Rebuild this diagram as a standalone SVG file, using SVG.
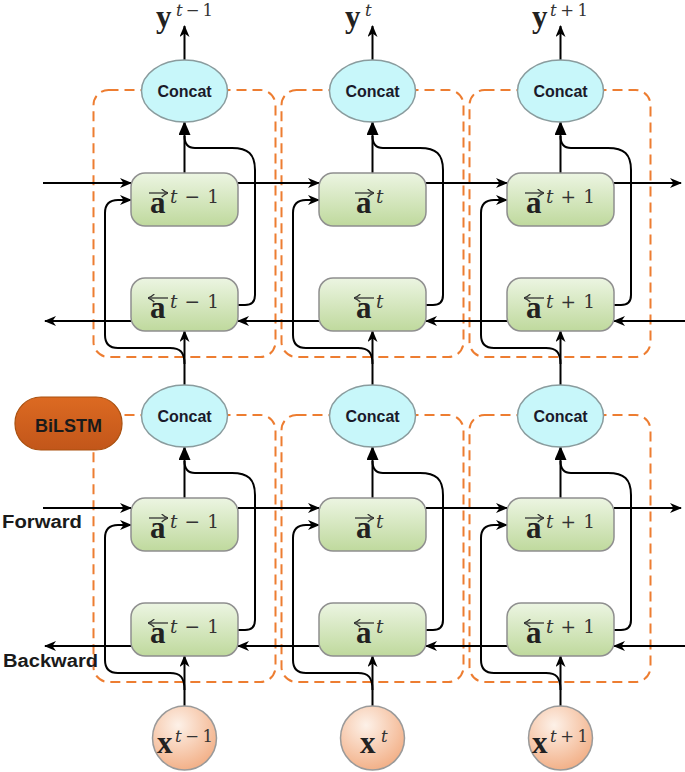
<svg xmlns="http://www.w3.org/2000/svg" width="685" height="772" viewBox="0 0 685 772">
<defs>
<style>
.dash{fill:none;stroke:#ED7D31;stroke-width:2;stroke-dasharray:10 6}
.cell{fill:url(#gGreen);stroke:#8f8f8f;stroke-width:1.5}
.cc{fill:#c8f7fa;stroke:#8a9c9e;stroke-width:1.5}
.xin{fill:url(#gPeach);stroke:#9a9a9a;stroke-width:1.5}
.ln{fill:none;stroke:#000;stroke-width:2}
.arr{marker-end:url(#mA)}
.big{marker-end:url(#mB)}
.ov{fill:none;stroke:#333;stroke-width:1.3;marker-end:url(#mT)}
.ctxt{font-family:"Liberation Sans",Arial,sans-serif;font-weight:bold;font-size:16px;fill:#1a1a2a;text-anchor:middle}
.lab{font-family:"Liberation Sans",Arial,sans-serif;font-weight:bold;font-size:18px;fill:#1a1a1a}
.a{font-family:"Liberation Serif","Times New Roman",serif;font-weight:bold;font-size:31px;fill:#222}
.sup{font-family:"DejaVu Serif","Liberation Serif",serif;font-style:italic;font-size:18.5px;fill:#333}
.sup2{font-family:"DejaVu Serif","Liberation Serif",serif;font-style:italic;font-size:16.5px;fill:#333}
.up{font-style:normal}
</style>
<linearGradient id="gGreen" x1="0" y1="0" x2="0" y2="1">
<stop offset="0" stop-color="#ecf5e2"/>
<stop offset="1" stop-color="#bfd99d"/>
</linearGradient>
<radialGradient id="gPeach" cx="0.4" cy="0.3" r="0.75">
<stop offset="0" stop-color="#fdf1e8"/>
<stop offset="1" stop-color="#f2ad83"/>
</radialGradient>
<linearGradient id="gBi" x1="0" y1="0" x2="0" y2="1">
<stop offset="0" stop-color="#dc6a22"/>
<stop offset="1" stop-color="#c2561a"/>
</linearGradient>
<marker id="mA" viewBox="0 0 12 10" refX="11" refY="5" markerWidth="12" markerHeight="10" markerUnits="userSpaceOnUse" orient="auto">
<path d="M0,0 L12,5 L0,10 L3.5,5 z" fill="#000"/>
</marker>
<marker id="mB" viewBox="0 0 14 12" refX="13" refY="6" markerWidth="14" markerHeight="12" markerUnits="userSpaceOnUse" orient="auto">
<path d="M0,0 L14,6 L0,12 z" fill="#000"/>
</marker>
<marker id="mT" viewBox="0 0 7 9" refX="6.8" refY="4.5" markerWidth="7" markerHeight="9" markerUnits="userSpaceOnUse" orient="auto">
<path d="M0.5,0.5 Q3.5,3.5 7,4.5 Q3.5,5.5 0.5,8.5" fill="none" stroke="#333" stroke-width="1.3"/>
</marker>
</defs>
<rect width="685" height="772" fill="#fff"/>

<g id="groups">
<rect class="dash" x="93.5" y="90" width="182" height="267" rx="15"/>
<rect class="dash" x="281.5" y="90" width="182" height="267" rx="15"/>
<rect class="dash" x="469.5" y="90" width="181" height="267" rx="15"/>
<rect class="dash" x="93.5" y="415" width="182" height="267" rx="15"/>
<rect class="dash" x="281.5" y="415" width="182" height="267" rx="15"/>
<rect class="dash" x="469.5" y="415" width="181" height="267" rx="15"/>
</g>

<g id="connectors">
<path class="ln arr" d="M184.5,60 L184.5,26"/>
<path class="ln arr" d="M372.5,60 L372.5,26"/>
<path class="ln arr" d="M560.5,60 L560.5,26"/>
<path class="ln big" d="M184.5,173 L184.5,122"/>
<path class="ln big" d="M372.5,173 L372.5,122"/>
<path class="ln big" d="M560.5,173 L560.5,122"/>
<path class="ln" d="M238,305 L245,305 Q255,305 255,295 L255,170 C255,154 248,148 232,148 L195,148 Q184.5,148 184.5,136"/>
<path class="ln" d="M426,305 L433,305 Q443,305 443,295 L443,170 C443,154 436,148 420,148 L383,148 Q372.5,148 372.5,136"/>
<path class="ln" d="M614,305 L621,305 Q631,305 631,295 L631,170 C631,154 624,148 608,148 L571,148 Q560.5,148 560.5,136"/>
<path class="ln arr" d="M43,183 L131,183"/>
<path class="ln arr" d="M238,183 L319,183"/>
<path class="ln arr" d="M426,183 L507,183"/>
<path class="ln arr" d="M614,183 L681,183"/>
<path class="ln arr" d="M685,321 L614,321"/>
<path class="ln arr" d="M507,321 L426,321"/>
<path class="ln arr" d="M319,321 L238,321"/>
<path class="ln arr" d="M131,321 L45,321"/>
<path class="ln arr" d="M184.5,385 L184.5,331"/>
<path class="ln arr" d="M372.5,385 L372.5,331"/>
<path class="ln arr" d="M560.5,385 L560.5,331"/>
<path class="ln arr" d="M184.5,364 C184.5,352 180,348 170,348 L118,348 Q105,348 105,335 L105,213 Q105,200 118,200 L131,200"/>
<path class="ln arr" d="M372.5,364 C372.5,352 368,348 358,348 L306,348 Q293,348 293,335 L293,213 Q293,200 306,200 L319,200"/>
<path class="ln arr" d="M560.5,364 C560.5,352 556,348 546,348 L494,348 Q481,348 481,335 L481,213 Q481,200 494,200 L507,200"/>
<path class="ln big" d="M184.5,498 L184.5,447"/>
<path class="ln big" d="M372.5,498 L372.5,447"/>
<path class="ln big" d="M560.5,498 L560.5,447"/>
<path class="ln" d="M238,630 L245,630 Q255,630 255,620 L255,495 C255,479 248,473 232,473 L195,473 Q184.5,473 184.5,461"/>
<path class="ln" d="M426,630 L433,630 Q443,630 443,620 L443,495 C443,479 436,473 420,473 L383,473 Q372.5,473 372.5,461"/>
<path class="ln" d="M614,630 L621,630 Q631,630 631,620 L631,495 C631,479 624,473 608,473 L571,473 Q560.5,473 560.5,461"/>
<path class="ln arr" d="M43,508 L131,508"/>
<path class="ln arr" d="M238,508 L319,508"/>
<path class="ln arr" d="M426,508 L507,508"/>
<path class="ln arr" d="M614,508 L681,508"/>
<path class="ln arr" d="M685,646 L614,646"/>
<path class="ln arr" d="M507,646 L426,646"/>
<path class="ln arr" d="M319,646 L238,646"/>
<path class="ln arr" d="M131,646 L45,646"/>
<path class="ln arr" d="M184.5,706 L184.5,656"/>
<path class="ln arr" d="M372.5,706 L372.5,656"/>
<path class="ln arr" d="M560.5,706 L560.5,656"/>
<path class="ln arr" d="M184.5,690 C184.5,677 180,673 170,673 L118,673 Q105,673 105,660 L105,538 Q105,525 118,525 L131,525"/>
<path class="ln arr" d="M372.5,690 C372.5,677 368,673 358,673 L306,673 Q293,673 293,660 L293,538 Q293,525 306,525 L319,525"/>
<path class="ln arr" d="M560.5,690 C560.5,677 556,673 546,673 L494,673 Q481,673 481,660 L481,538 Q481,525 494,525 L507,525"/>
</g>

<g id="y1"><text class="a" x="156" y="27">y</text><text class="sup2" x="176" y="16" textLength="37">t<tspan class="up">−1</tspan></text></g>
<g id="y2"><text class="a" x="345" y="27">y</text><text class="sup2" x="365" y="16">t</text></g>
<g id="y3"><text class="a" x="532" y="27">y</text><text class="sup2" x="550" y="16" textLength="38">t<tspan class="up">+1</tspan></text></g>

<g id="concat-top-1"><ellipse class="cc" cx="184.5" cy="91" rx="43" ry="31"/><text class="ctxt" x="184.5" y="97">Concat</text></g>
<g id="concat-top-2"><ellipse class="cc" cx="372.5" cy="91" rx="43" ry="31"/><text class="ctxt" x="372.5" y="97">Concat</text></g>
<g id="concat-top-3"><ellipse class="cc" cx="560.5" cy="91" rx="43" ry="31"/><text class="ctxt" x="560.5" y="97">Concat</text></g>
<g id="concat-bot-1"><ellipse class="cc" cx="184.5" cy="416" rx="43" ry="31"/><text class="ctxt" x="184.5" y="422">Concat</text></g>
<g id="concat-bot-2"><ellipse class="cc" cx="372.5" cy="416" rx="43" ry="31"/><text class="ctxt" x="372.5" y="422">Concat</text></g>
<g id="concat-bot-3"><ellipse class="cc" cx="560.5" cy="416" rx="43" ry="31"/><text class="ctxt" x="560.5" y="422">Concat</text></g>

<g id="fw-top-1"><rect class="cell" x="131" y="173" width="107" height="53" rx="14"/><path class="ov" d="M149,193 L168,193"/><text class="a" x="150" y="213">a</text><text class="sup" x="170" y="203" textLength="49">t<tspan class="up">−1</tspan></text></g>
<g id="fw-top-2"><rect class="cell" x="319" y="173" width="107" height="53" rx="14"/><path class="ov" d="M355,193 L374,193"/><text class="a" x="356" y="213">a</text><text class="sup" x="376" y="203">t</text></g>
<g id="fw-top-3"><rect class="cell" x="507" y="173" width="107" height="53" rx="14"/><path class="ov" d="M525,193 L544,193"/><text class="a" x="526" y="213">a</text><text class="sup" x="546" y="203" textLength="49">t<tspan class="up">+1</tspan></text></g>
<g id="bw-top-1"><rect class="cell" x="131" y="278" width="107" height="53" rx="14"/><path class="ov" d="M168,298 L148,298"/><text class="a" x="150" y="318">a</text><text class="sup" x="170" y="308" textLength="49">t<tspan class="up">−1</tspan></text></g>
<g id="bw-top-2"><rect class="cell" x="319" y="278" width="107" height="53" rx="14"/><path class="ov" d="M374,298 L354,298"/><text class="a" x="356" y="318">a</text><text class="sup" x="376" y="308">t</text></g>
<g id="bw-top-3"><rect class="cell" x="507" y="278" width="107" height="53" rx="14"/><path class="ov" d="M544,298 L524,298"/><text class="a" x="526" y="318">a</text><text class="sup" x="546" y="308" textLength="49">t<tspan class="up">+1</tspan></text></g>

<g id="fw-bot-1"><rect class="cell" x="131" y="498" width="107" height="53" rx="14"/><path class="ov" d="M149,518 L168,518"/><text class="a" x="150" y="538">a</text><text class="sup" x="170" y="528" textLength="49">t<tspan class="up">−1</tspan></text></g>
<g id="fw-bot-2"><rect class="cell" x="319" y="498" width="107" height="53" rx="14"/><path class="ov" d="M355,518 L374,518"/><text class="a" x="356" y="538">a</text><text class="sup" x="376" y="528">t</text></g>
<g id="fw-bot-3"><rect class="cell" x="507" y="498" width="107" height="53" rx="14"/><path class="ov" d="M525,518 L544,518"/><text class="a" x="526" y="538">a</text><text class="sup" x="546" y="528" textLength="49">t<tspan class="up">+1</tspan></text></g>
<g id="bw-bot-1"><rect class="cell" x="131" y="603" width="107" height="53" rx="14"/><path class="ov" d="M168,623 L148,623"/><text class="a" x="150" y="643">a</text><text class="sup" x="170" y="633" textLength="49">t<tspan class="up">−1</tspan></text></g>
<g id="bw-bot-2"><rect class="cell" x="319" y="603" width="107" height="53" rx="14"/><path class="ov" d="M374,623 L354,623"/><text class="a" x="356" y="643">a</text><text class="sup" x="376" y="633">t</text></g>
<g id="bw-bot-3"><rect class="cell" x="507" y="603" width="107" height="53" rx="14"/><path class="ov" d="M544,623 L524,623"/><text class="a" x="526" y="643">a</text><text class="sup" x="546" y="633" textLength="49">t<tspan class="up">+1</tspan></text></g>

<g id="x1"><circle class="xin" cx="184.5" cy="738" r="32"/><text class="a" x="157" y="753">x</text><text class="sup2" x="175" y="742" textLength="38">t<tspan class="up">−1</tspan></text></g>
<g id="x2"><circle class="xin" cx="372.5" cy="738" r="32"/><text class="a" x="360" y="753">x</text><text class="sup2" x="381" y="742">t</text></g>
<g id="x3"><circle class="xin" cx="560.5" cy="738" r="32"/><text class="a" x="532" y="753">x</text><text class="sup2" x="550" y="742" textLength="38">t<tspan class="up">+1</tspan></text></g>

<g id="bilstm"><rect x="15" y="397" width="107" height="53" rx="26" fill="url(#gBi)" stroke="#a9500f" stroke-width="1.2"/><text class="lab" x="68.5" y="432" text-anchor="middle" font-size="19.5">BiLSTM</text></g>
<g id="forward-label"><text class="lab" x="2" y="528" textLength="80" lengthAdjust="spacingAndGlyphs">Forward</text></g>
<g id="backward-label"><text class="lab" x="3" y="667" textLength="95" lengthAdjust="spacingAndGlyphs">Backward</text></g>
</svg>
